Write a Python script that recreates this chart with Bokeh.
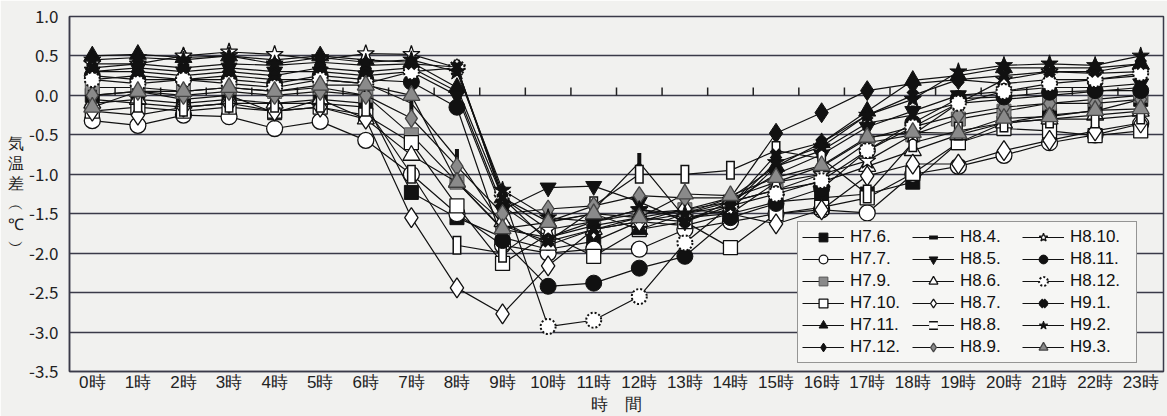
from bokeh.plotting import figure
from bokeh.models import Range1d, FixedTicker, Legend, LegendItem, PrintfTickFormatter
from bokeh.embed import file_html
from bokeh.resources import INLINE
import math

hour_labels = ["0時", "1時", "2時", "3時", "4時", "5時", "6時", "7時", "8時", "9時", "10時", "11時",
               "12時", "13時", "14時", "15時", "16時", "17時", "18時", "19時", "20時", "21時", "22時", "23時"]
hours = list(range(24))
y_ticks = [1.0, 0.5, 0.0, -0.5, -1.0, -1.5, -2.0, -2.5, -3.0, -3.5]

series_names = ["H7.6.", "H7.7.", "H7.9.", "H7.10.", "H7.11.", "H7.12.",
                "H8.4.", "H8.5.", "H8.6.", "H8.7.", "H8.8.", "H8.9.",
                "H8.10.", "H8.11.", "H8.12.", "H9.1.", "H9.2.", "H9.3."]

H7_6 = [0.00, 0.05, -0.05, 0.00, -0.22, -0.05, -0.10, -1.23, -1.55, -1.80, -1.95, -1.85, -1.60, -1.65, -1.50, -1.35, -1.30, -1.25, -1.10, -0.60, -0.35, -0.25, -0.20, -0.05]
H7_7 = [-0.32, -0.38, -0.25, -0.27, -0.42, -0.33, -0.57, -1.00, -1.50, -1.90, -2.00, -1.95, -1.95, -1.70, -1.60, -1.50, -1.45, -1.49, -1.00, -0.90, -0.76, -0.60, -0.50, -0.36]
H7_9 = [0.10, 0.10, 0.05, 0.10, 0.05, 0.10, 0.00, -0.50, -1.10, -1.70, -1.80, -1.60, -1.50, -1.45, -1.35, -1.20, -1.00, -0.60, -0.50, -0.30, -0.20, -0.10, -0.05, 0.00]
H7_10 = [-0.20, -0.15, -0.20, -0.15, -0.20, -0.15, -0.25, -0.60, -1.40, -2.13, -1.76, -2.04, -1.70, -1.60, -1.93, -1.50, -1.42, -1.30, -0.99, -0.60, -0.42, -0.45, -0.51, -0.45]
H7_11 = [0.50, 0.52, 0.48, 0.50, 0.45, 0.50, 0.45, 0.42, 0.10, -1.30, -1.60, -1.50, -1.70, -1.50, -1.30, -0.90, -0.60, -0.20, 0.19, 0.25, 0.35, 0.35, 0.35, 0.40]
H7_12 = [0.30, 0.30, 0.25, 0.30, 0.25, 0.35, 0.30, 0.35, 0.05, -1.40, -1.80, -1.65, -1.55, -1.45, -1.30, -0.48, -0.22, 0.06, 0.15, 0.20, 0.15, 0.20, 0.20, 0.25]
H8_4 = [0.20, 0.25, 0.20, 0.25, 0.20, 0.20, 0.15, -0.10, -0.80, -1.65, -1.85, -1.45, -0.85, -1.55, -1.45, -0.90, -0.70, -0.35, -0.25, -0.10, -0.05, 0.00, 0.05, 0.10]
H8_5 = [0.30, 0.35, 0.30, 0.35, 0.30, 0.30, 0.25, 0.30, 0.00, -1.45, -1.17, -1.15, -1.35, -1.60, -1.35, -1.00, -0.75, -0.40, -0.20, 0.00, 0.05, 0.10, 0.10, 0.15]
H8_6 = [-0.10, -0.05, -0.10, -0.05, -0.10, -0.05, -0.30, -0.76, -1.10, -1.60, -1.90, -1.70, -1.60, -1.50, -1.35, -1.20, -1.10, -0.90, -0.70, -0.50, -0.35, -0.30, -0.25, -0.20]
H8_7 = [-0.20, -0.25, -0.15, -0.10, -0.20, -0.15, -0.30, -1.55, -2.44, -2.77, -2.16, -1.70, -1.60, -1.44, -1.50, -1.63, -1.45, -1.02, -0.87, -0.87, -0.70, -0.57, -0.45, -0.35]
H8_8 = [-0.05, -0.10, -0.15, -0.10, -0.10, -0.10, -0.15, -1.00, -1.90, -2.00, -1.60, -1.40, -1.00, -1.00, -0.95, -0.70, -0.80, -1.25, -0.60, -0.45, -0.35, -0.30, -0.30, -0.25]
H8_9 = [0.00, 0.05, 0.00, 0.05, 0.00, 0.05, 0.00, -0.29, -0.90, -1.50, -1.44, -1.40, -1.27, -1.30, -1.30, -1.10, -0.90, -0.55, -0.40, -0.25, -0.15, -0.10, -0.10, -0.05]
H8_10 = [0.40, 0.40, 0.50, 0.55, 0.52, 0.45, 0.53, 0.52, 0.35, -1.30, -1.70, -1.60, -1.45, -1.55, -1.50, -1.10, -1.00, -0.83, -0.50, -0.10, 0.20, 0.30, 0.28, 0.30]
H8_11 = [0.25, 0.20, 0.20, 0.20, 0.15, 0.25, 0.20, 0.17, -0.15, -1.84, -2.42, -2.38, -2.19, -2.04, -1.55, -1.37, -1.18, -0.70, -0.35, -0.04, -0.02, 0.04, 0.06, 0.06]
H8_12 = [0.20, 0.15, 0.20, 0.15, 0.10, 0.20, 0.15, 0.30, 0.35, -1.25, -2.93, -2.85, -2.55, -1.87, -1.40, -1.25, -1.08, -0.70, -0.40, -0.10, 0.05, 0.15, 0.20, 0.28]
H9_1 = [0.35, 0.40, 0.35, 0.40, 0.38, 0.42, 0.38, 0.40, 0.36, -1.30, -1.85, -1.70, -1.55, -1.60, -1.40, -0.75, -0.60, -0.25, 0.00, 0.20, 0.25, 0.30, 0.30, 0.40]
H9_2 = [0.45, 0.48, 0.45, 0.50, 0.40, 0.48, 0.42, 0.45, 0.30, -1.20, -1.55, -1.60, -1.45, -1.50, -1.40, -0.85, -0.65, -0.25, -0.05, 0.30, 0.38, 0.40, 0.38, 0.50]
H9_3 = [-0.15, 0.05, 0.05, 0.10, 0.05, 0.13, 0.13, 0.00, -1.10, -1.69, -1.61, -1.50, -1.55, -1.25, -1.27, -1.04, -0.89, -0.53, -0.47, -0.48, -0.29, -0.27, -0.19, -0.17]

series_values = [H7_6, H7_7, H7_9, H7_10, H7_11, H7_12, H8_4, H8_5, H8_6, H8_7, H8_8, H8_9,
                 H8_10, H8_11, H8_12, H9_1, H9_2, H9_3]

BLK = "#111111"
GRY = "#8a8a8a"
WHT = "#ffffff"
# marker layers: (marker, size, fill, line_color, line_width, angle, dash)
styles = [
    [("square", 14, BLK, BLK, 1, 0, None)],
    [("circle", 16, WHT, BLK, 1.3, 0, None)],
    [("square", 14, GRY, "#555555", 1, 0, None)],
    [("square", 14, WHT, BLK, 1.3, 0, None)],
    [("triangle", 17, BLK, BLK, 1, 0, None)],
    [("diamond", 20, BLK, BLK, 1, 0, None)],
    [("dash", 19, BLK, BLK, 4, math.pi / 2, None)],
    [("inverted_triangle", 16, BLK, BLK, 1, 0, None)],
    [("triangle", 17, WHT, BLK, 1.3, 0, None)],
    [("diamond", 20, WHT, BLK, 1.3, 0, None)],
    [("dash", 19, BLK, BLK, 9, math.pi / 2, None), ("dash", 16, WHT, WHT, 6, math.pi / 2, None)],
    [("diamond", 18, GRY, "#444444", 1.3, 0, None)],
    [("star", 18, WHT, BLK, 1.3, 0, None)],
    [("circle", 16, BLK, BLK, 1, 0, None)],
    [("circle", 15, WHT, BLK, 2, 0, "2 2")],
    [("x", 13, BLK, BLK, 5, 0, None)],
    [("star", 18, BLK, BLK, 1, 0, None)],
    [("triangle", 17, GRY, "#444444", 1.3, 0, None)],
]

BG = "#f1f1ef"
FONT = "Noto Sans CJK JP"
LFONT = "Liberation Sans"
W, H = 1167, 416

p = figure(width=W, height=H, x_range=Range1d(-0.5, 23.5), y_range=Range1d(-3.5, 1.0),
           output_backend="svg", toolbar_location=None,
           min_border_left=69, min_border_top=16, min_border_right=4, min_border_bottom=40)
p.background_fill_color = BG
p.border_fill_color = BG
p.outline_line_color = "#3a3a48"
p.outline_line_width = 1.5

p.xgrid.visible = False
p.ygrid.ticker = FixedTicker(ticks=y_ticks)
p.ygrid.grid_line_color = "#3a3a48"
p.ygrid.grid_line_width = 1.5

p.xaxis.ticker = FixedTicker(ticks=hours)
p.xaxis.major_label_overrides = {h: lab for h, lab in zip(hours, hour_labels)}
p.xaxis.axis_label = "時　間"
p.yaxis.ticker = FixedTicker(ticks=y_ticks)
p.yaxis.formatter = PrintfTickFormatter(format="%.1f")
p.yaxis.axis_label = "気\n温\n差\n︵\n℃\n︶"
p.yaxis.axis_label_orientation = "horizontal"
for ax in (p.xaxis, p.yaxis):
    ax.major_tick_line_color = None
    ax.minor_tick_line_color = None
    ax.axis_line_color = "#3a3a48"
    ax.axis_line_width = 1.5
    ax.major_label_text_color = "#222222"
    ax.axis_label_text_font_style = "normal"
    ax.axis_label_text_color = "#222222"
p.yaxis.major_label_text_font = FONT
p.yaxis.major_label_text_font_size = "17px"
p.yaxis.axis_label_text_font = LFONT
p.yaxis.axis_label_text_font_size = "16px"
p.xaxis.major_label_text_font = LFONT
p.xaxis.major_label_text_font_size = "17px"
p.xaxis.axis_label_text_font = LFONT
p.xaxis.axis_label_text_font_size = "17px"
p.xaxis.major_label_standoff = -5
p.xaxis.axis_label_standoff = 0
p.yaxis.major_label_standoff = 5
p.yaxis.axis_label_standoff = 2

# category boundary ticks on the zero line
bounds = [h + 0.5 for h in hours[:-1]]
p.segment(x0=bounds, y0=[0.0] * len(bounds), x1=bounds, y1=[0.1] * len(bounds),
          line_color="#222222", line_width=1.5)

items = []
for name, vals, layers in zip(series_names, series_values, styles):
    lr = p.line(hours, vals, line_color=BLK, line_width=1.2)
    rs = [lr]
    for (mk, sz, fc, lc, lw, ang, dash) in layers:
        kw = dict(marker=mk, size=sz, fill_color=fc, line_color=lc, line_width=lw, angle=ang)
        if dash:
            kw["line_dash"] = dash
        rs.append(p.scatter(hours, vals, **kw))
    items.append(LegendItem(label=name, renderers=rs))

legend = Legend(items=items, location=(728, 8), nrows=6, orientation="vertical")
legend.label_text_font = LFONT
legend.label_text_font_size = "17px"
legend.label_text_color = "#111111"
legend.glyph_width = 42
legend.glyph_height = 22
legend.label_standoff = 6
legend.label_width = 62
legend.label_height = 22
legend.spacing = 0
legend.padding = 4
legend.margin = 0
legend.border_line_color = "#333333"
legend.border_line_width = 1.5
legend.background_fill_color = "#f6f6f4"
legend.background_fill_alpha = 1.0
p.add_layout(legend, "center")

open("out.html", "w").write(file_html(p, INLINE))
